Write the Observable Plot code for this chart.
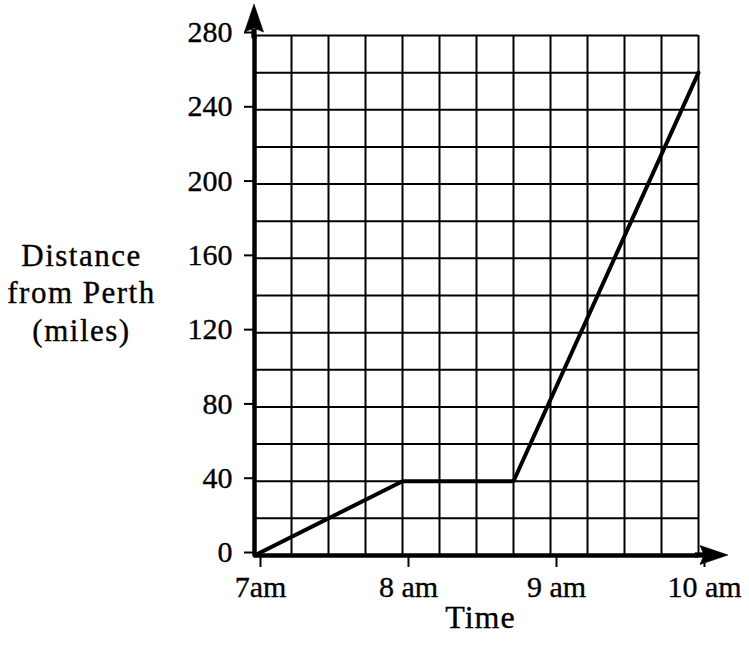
<!DOCTYPE html>
<html>
<head>
<meta charset="utf-8">
<script src="https://cdn.jsdelivr.net/npm/d3@7"></script>
<script src="https://cdn.jsdelivr.net/npm/@observablehq/plot@0.6"></script>
<style>
  html, body { margin: 0; padding: 0; background: #fff; }
  svg text { stroke: black; stroke-width: 0.35px; }
  .ylab text { letter-spacing: 1.5px; }
  .xlab text { letter-spacing: 1px; }
</style>
</head>
<body>
<div id="chart"></div>
<script>
// Data
const times = [7, 8, 8.75, 10];          // hours (7am .. 10am)
const distances = [0, 40, 40, 260];      // miles from Perth
const xTicks = [7, 8, 9, 10];
const xTickLabels = ["7am", "8 am", "9 am", "10 am"];
const yTicks = [0, 40, 80, 120, 160, 200, 240, 280];
const xGrid = d3.range(7.25, 10.001, 0.25);
const yGrid = d3.range(20, 280.001, 20);
const xLabel = "Time";
const yLabel = "Distance\nfrom Perth\n(miles)";

const journey = times.map((t, i) => ({t, d: distances[i]}));

const font = "'Liberation Serif', 'Times New Roman', serif";

// axis arrowheads drawn at the ends of the axes, positioned by the plot's scales
function axisArrows(index, scales) {
  const g = d3.create("svg:g").attr("fill", "black").attr("stroke", "black").attr("stroke-width", 0.6);
  const x0 = scales.x(7), x1 = scales.x(10);
  const y0 = scales.y(0), y1 = scales.y(280);
  // up arrow at top of y axis (shaft then head, no overlap)
  g.append("path").attr("d",
    `M${x0 - 2.3},${y1 + 3}V${y1 - 6}H${x0 + 2.3}V${y1 + 3}Z`);
  g.append("path").attr("d",
    `M${x0},${y1 - 31}L${x0 + 9.5},${y1 - 3}L${x0},${y1 - 7}L${x0 - 9.5},${y1 - 3}Z`);
  // right arrow at end of x axis
  g.append("path").attr("d",
    `M${x1 - 3},${y0 - 2.3}H${x1 + 6}V${y0 + 2.3}H${x1 - 3}Z`);
  g.append("path").attr("d",
    `M${x1 + 30},${y0}L${x1 + 2},${y0 - 9.5}L${x1 + 6},${y0}L${x1 + 2},${y0 + 9.5}Z`);
  return g.node();
}

const chart = Plot.plot({
  width: 749,
  height: 652,
  marginLeft: 254,
  marginRight: 51,
  marginTop: 35,
  marginBottom: 97,
  style: {fontFamily: font, fontSize: "30px", color: "black", background: "white"},
  x: {domain: [7, 10]},
  y: {domain: [0, 280]},
  marks: [
    Plot.ruleX(xGrid, {y1: 0, y2: 280, stroke: "black", strokeWidth: 2}),
    Plot.ruleY(yGrid, {x1: 7, x2: 10, stroke: "black", strokeWidth: 2}),
    Plot.axisY(yTicks, {tickSize: 10, tickPadding: 12, strokeWidth: 2, dy: -3, fontSize: 30, label: null}),
    Plot.axisX(xTicks, {tickSize: 12, tickPadding: 8, strokeWidth: 2, dx: 6, fontSize: 30, label: null,
      tickFormat: (d) => xTickLabels[xTicks.indexOf(d)]}),
    Plot.ruleX([7], {y1: 0, y2: 280, stroke: "black", strokeWidth: 4.5}),
    Plot.ruleY([0], {x1: 7, x2: 10, stroke: "black", strokeWidth: 4.5}),
    axisArrows,
    Plot.line(journey, {x: "t", y: "d", stroke: "black", strokeWidth: 4, strokeLinejoin: "miter"}),
    Plot.text([yLabel], {frameAnchor: "left", dx: -173, dy: -4, fontSize: 31, lineHeight: 1.2, textAnchor: "middle", fill: "black", className: "ylab"}),
    Plot.text([xLabel], {frameAnchor: "bottom", dx: 4, dy: 72, fontSize: 32, textAnchor: "middle", fill: "black", className: "xlab"})
  ]
});
document.getElementById("chart").appendChild(chart);
</script>
</body>
</html>
